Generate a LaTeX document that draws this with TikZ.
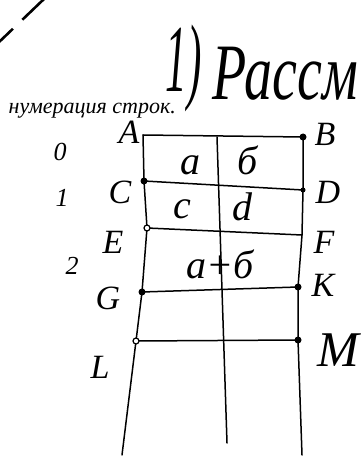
\documentclass[tikz,border=0pt]{standalone}
\usepackage{fontspec}
\setmainfont{Liberation Serif}
\begin{document}
\begin{tikzpicture}[x=1pt,y=-1pt, line width=1.4pt, line join=round, line cap=round,
 lbl/.style={font=\fontsize{34}{34}\selectfont\itshape, inner sep=0},
 cell/.style={font=\fontsize{40}{40}\selectfont\itshape, inner sep=0},
 num/.style={font=\fontsize{26}{26}\selectfont\itshape, inner sep=0},
 dot/.style={circle, fill, inner sep=0, minimum size=7pt},
 odot/.style={circle, draw, fill=white, inner sep=0, minimum size=6pt, line width=1.2pt},
 grid/.style={line width=1.5pt}]
\useasboundingbox (0,0) rectangle (362,457);
\clip (0,0) rectangle (362,457);
% corners
\coordinate (A) at (143,135);
\coordinate (B) at (303,137);
\coordinate (C) at (144,181);
\coordinate (D) at (303,190);
\coordinate (E) at (147,228);
\coordinate (F) at (302,235);
\coordinate (G) at (142,292);
\coordinate (K) at (298,287);
\coordinate (L) at (136,341);
\coordinate (M) at (298,340);
\coordinate (Lb) at (122,455);
\coordinate (Rb) at (302,455);
\coordinate (Mt) at (217,137);
\coordinate (Mb) at (227,443);
% dashed stroke top left
\draw[line width=2.6pt, dash pattern=on 30pt off 13pt, line cap=butt] (44,-1) -- (-3,44);
% header text
\node[font=\fontsize{22}{22}\selectfont\itshape, anchor=base west, inner sep=0] (hdr) at (8,114) {нумерация строк.};
\node[font=\fontsize{96}{96}\selectfont\itshape, anchor=base west, inner sep=0] (one) at (165,92) {\scalebox{0.45}[1]{1)}};
\node[font=\fontsize{80}{80}\selectfont\itshape, anchor=base west, inner sep=0] (ttl) at (212,100) {\scalebox{0.7}[1]{Рассм}};
% grid
\draw[grid] (A) -- (C) -- (E) -- (G) -- (L) -- (Lb);
\draw[grid] (B) -- (D) -- (F) -- (K) -- (M) -- (Rb);
\draw[grid] (Mt) -- (Mb);
\draw[grid] (A) -- (B);
\draw[grid] (C) -- (D);
\draw[grid] (E) -- (F);
\draw[grid] (G) -- (K);
\draw[grid] (L) -- (M);
% dots
\node[dot] (dB) at (B) {};
\node[dot] (dC) at (C) {};
\node[dot, minimum size=5pt] (dD) at (D) {};
\node[odot] (dE) at (E) {};
\node[dot] (dG) at (G) {};
\node[dot] (dK) at (K) {};
\node[odot] (dL) at (L) {};
\node[dot] (dM) at (M) {};
% labels
\node[lbl] (tA) at (129,132) {A};
\node[lbl] (tB) at (325,134) {B};
\node[lbl] (tC) at (120,192) {C};
\node[lbl] (tD) at (328,192) {D};
\node[lbl] (tE) at (113,242) {E};
\node[lbl] (tF) at (324,242) {F};
\node[lbl] (tG) at (108,298) {G};
\node[lbl] (tK) at (323,285) {K};
\node[lbl] (tL) at (100,367) {L};
\node[lbl, font=\fontsize{50}{50}\selectfont\itshape] (tM) at (338,350) {M};
% cells
\node[cell, anchor=base] (ca) at (190,175) {a};
\node[cell, anchor=base] (cb) at (248,175) {б};
\node[cell, anchor=base] (cc) at (182,218) {c};
\node[cell, anchor=base] (cd) at (242,220) {d};
\node[cell, anchor=base] (cab) at (220,278) {a+б};
% row numbers
\node[num] (n0) at (60,152) {0};
\node[num] (n1) at (62,198) {1};
\node[num] (n2) at (72,266) {2};
\end{tikzpicture}
\end{document}
